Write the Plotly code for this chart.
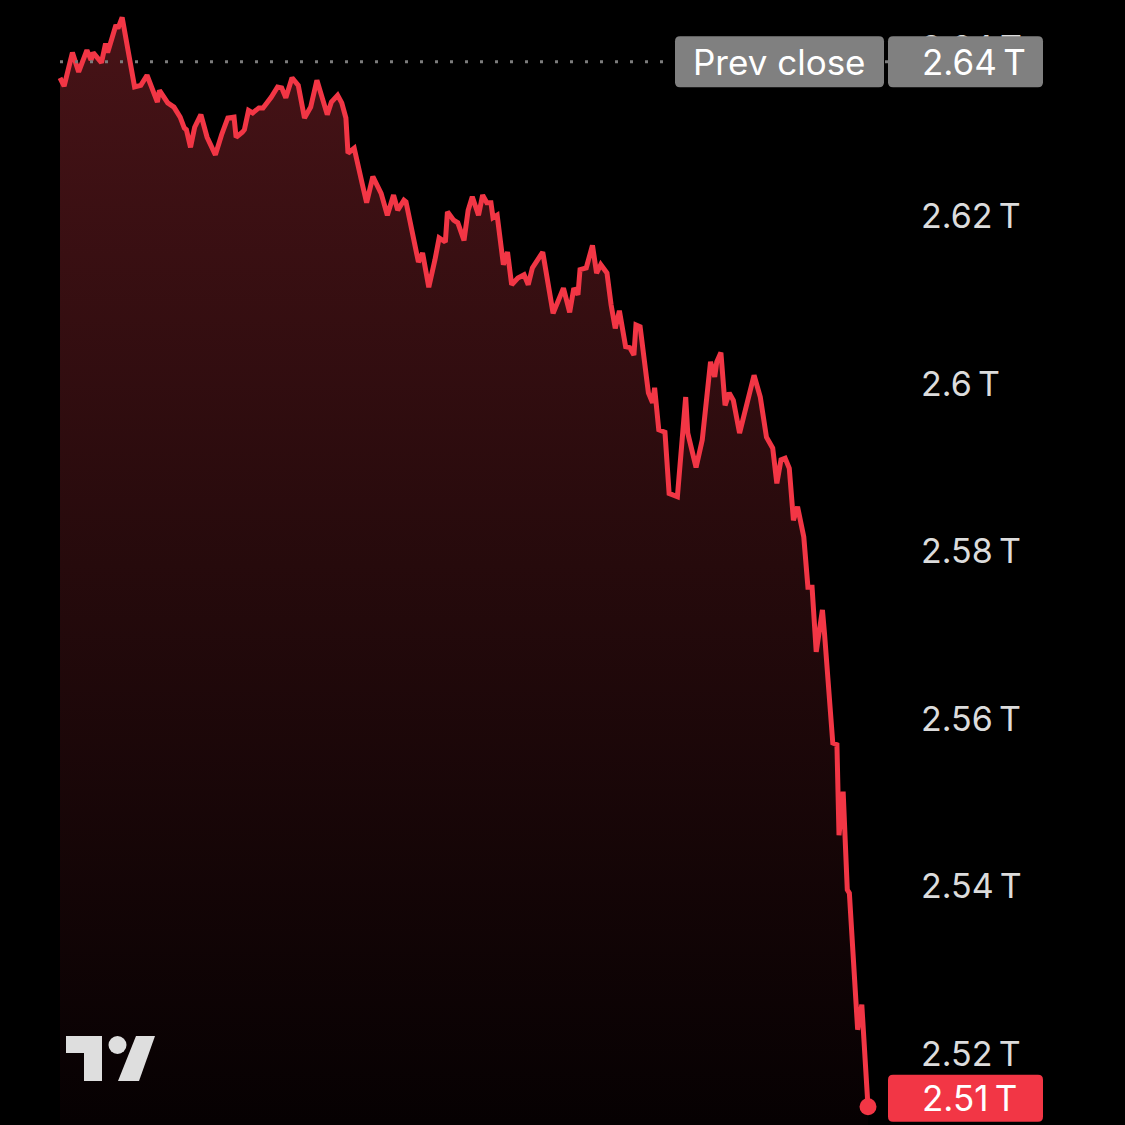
import plotly.graph_objects as go

# ---- data ----
minutes = [0, 2, 6, 9, 13, 15, 16, 20, 22, 23, 27, 28, 30, 36, 39, 42, 47, 48, 52, 55,
           58, 60, 61, 63, 65, 68, 71, 75, 78, 81, 84, 85, 88, 89, 91, 93, 96, 98, 102, 105,
           107, 109, 112, 115, 118, 121, 124, 129, 131, 134, 136, 138, 139, 142, 146, 148, 151, 155, 158, 161,
           163, 166, 167, 170, 173, 175, 178, 181, 183, 186, 187, 190, 192, 195, 197, 199, 202, 204, 206, 208,
           209, 211, 214, 216, 218, 221, 224, 226, 228, 233, 238, 243, 246, 248, 250, 251, 254, 257, 259, 261,
           264, 266, 268, 270, 273, 275, 277, 278, 280, 284, 286, 287, 289, 292, 294, 298, 302, 303, 307, 310,
           314, 316, 317, 319, 321, 323, 325, 328, 335, 338, 341, 344, 346, 348, 350, 352, 354, 356, 359, 361,
           363, 365, 368, 369, 373, 375, 376, 378, 380, 381, 385, 387, 390]

market_cap_t = [2.6365, 2.6355, 2.6395, 2.6372, 2.6398, 2.6386, 2.6395, 2.6383, 2.6406, 2.6395,
                2.6428, 2.6424, 2.6437, 2.6354, 2.6356, 2.6368, 2.6336, 2.6350, 2.6335, 2.6330,
                2.6318, 2.6305, 2.6303, 2.6282, 2.6306, 2.6321, 2.6294, 2.6273, 2.6297, 2.6317,
                2.6318, 2.6294, 2.6300, 2.6303, 2.6326, 2.6323, 2.6329, 2.6329, 2.6342, 2.6354,
                2.6353, 2.6341, 2.6365, 2.6356, 2.6317, 2.6330, 2.6362, 2.6321, 2.6336, 2.6344,
                2.6335, 2.6317, 2.6275, 2.6281, 2.6237, 2.6216, 2.6247, 2.6227, 2.6201, 2.6225,
                2.6207, 2.6219, 2.6217, 2.6180, 2.6145, 2.6156, 2.6115, 2.6148, 2.6174, 2.6169,
                2.6205, 2.6195, 2.6192, 2.6171, 2.6207, 2.6223, 2.6201, 2.6225, 2.6216, 2.6216,
                2.6198, 2.6201, 2.6142, 2.6157, 2.6118, 2.6126, 2.6130, 2.6118, 2.6138, 2.6157,
                2.6084, 2.6114, 2.6085, 2.6114, 2.6106, 2.6136, 2.6138, 2.6165, 2.6132, 2.6142,
                2.6132, 2.6094, 2.6066, 2.6087, 2.6044, 2.6043, 2.6034, 2.6070, 2.6068, 2.5989,
                2.5977, 2.5995, 2.5945, 2.5942, 2.5869, 2.5865, 2.5984, 2.5941, 2.5900, 2.5933,
                2.6026, 2.6008, 2.6026, 2.6037, 2.5974, 2.5989, 2.5980, 2.5941, 2.6010, 2.5984,
                2.5936, 2.5923, 2.5881, 2.5909, 2.5911, 2.5899, 2.5837, 2.5853, 2.5817, 2.5757,
                2.5757, 2.5680, 2.5730, 2.5702, 2.5571, 2.5569, 2.5461, 2.5513, 2.5396, 2.5392,
                2.5229, 2.5259, 2.5137]

prev_close = 2.6384
tick_vals = [2.52, 2.54, 2.56, 2.58, 2.60, 2.62, 2.64]
tick_text = ["2.52\u2009T", "2.54\u2009T", "2.56\u2009T", "2.58\u2009T", "2.6\u2009T", "2.62\u2009T", "2.64\u2009T"]

# ---- styling ----
W = H = 1125
RED = "#F23645"
GRAY_BOX = "#808080"
LABEL = "#dcdcdc"
FONT = "Inter, Roboto, sans-serif"
Y_RANGE = [2.51153, 2.64578]
X_RANGE = [-28.96, 398.2]
PLOT_RIGHT = 885 / W
PX = (Y_RANGE[1] - Y_RANGE[0]) / H  # data units per pixel (vertical)

fig = go.Figure()

fig.add_trace(go.Scatter(
    x=minutes, y=market_cap_t, mode="lines",
    line=dict(color=RED, width=5),
    fill="tozeroy",
    fillgradient=dict(type="vertical",
                      colorscale=[[0, "rgb(6,1,2)"], [0.5, "rgb(38,10,12)"], [1, "rgb(72,19,23)"]],
                      start=Y_RANGE[0], stop=2.645),
    hoverinfo="skip",
))
fig.add_trace(go.Scatter(
    x=[minutes[-1]], y=[market_cap_t[-1]], mode="markers",
    marker=dict(color=RED, size=17), cliponaxis=False, hoverinfo="skip",
))


def rrect(x0, x1, yc, h_px, r_px, color):
    """rounded rectangle: x in paper pixels, y centre in data units"""
    X0, X1 = x0 / W, x1 / W
    rx = r_px / W
    ry = r_px * PX
    y0 = yc - h_px / 2 * PX
    y1 = yc + h_px / 2 * PX
    path = (f"M{X0+rx},{y1} L{X1-rx},{y1} Q{X1},{y1} {X1},{y1-ry} "
            f"L{X1},{y0+ry} Q{X1},{y0} {X1-rx},{y0} L{X0+rx},{y0} "
            f"Q{X0},{y0} {X0},{y0+ry} L{X0},{y1-ry} Q{X0},{y1} {X0+rx},{y1} Z")
    return dict(type="path", xref="paper", yref="y", path=path,
                fillcolor=color, line=dict(width=0), layer="above")


shapes = []
# previous close dotted line
shapes.append(dict(type="line", xref="paper", yref="y",
                   x0=60 / W, x1=1040 / W, y0=prev_close, y1=prev_close,
                   line=dict(color="#7c7c7c", width=3, dash="3px,12px"), layer="above"))
# prev close label boxes
shapes.append(rrect(675, 884, prev_close, 51, 5, GRAY_BOX))
shapes.append(rrect(888, 1043, prev_close, 51, 5, GRAY_BOX))
# last value box
last_c = market_cap_t[-1] + 8.5 * PX
shapes.append(rrect(888, 1043, last_c, 47, 5, RED))


# TradingView logo (paper pixel coords)
def pp(x, y):
    return f"{x / W},{1 - y / H}"


logo_col = "#dedede"
shapes.append(dict(type="path", xref="paper", yref="paper", layer="above",
                   fillcolor=logo_col, line=dict(width=0),
                   path=(f"M{pp(66,1036)} L{pp(102,1036)} L{pp(102,1081)} L{pp(84,1081)} "
                         f"L{pp(84,1053)} L{pp(66,1053)} Z")))
shapes.append(dict(type="circle", xref="paper", yref="paper", layer="above",
                   fillcolor=logo_col, line=dict(width=0),
                   x0=108.5 / W, x1=126.5 / W, y0=1 - 1054 / H, y1=1 - 1036 / H))
shapes.append(dict(type="path", xref="paper", yref="paper", layer="above",
                   fillcolor=logo_col, line=dict(width=0),
                   path=f"M{pp(136,1036)} L{pp(155,1036)} L{pp(139,1081)} L{pp(118,1081)} Z"))

annotations = [
    dict(x=779 / W, y=prev_close, xref="paper", yref="y", text="Prev close",
         showarrow=False, xanchor="center", yanchor="middle",
         font=dict(family=FONT, size=35, color="#ffffff")),
    dict(x=920 / W, y=prev_close, xref="paper", yref="y",
         text=f"{prev_close:.2f}\u2009T", showarrow=False, xanchor="left", yanchor="middle",
         font=dict(family=FONT, size=35, color="#ffffff")),
    dict(x=920 / W, y=last_c, xref="paper", yref="y",
         text=f"{market_cap_t[-1]:.2f}\u2009T", showarrow=False, xanchor="left", yanchor="middle",
         font=dict(family=FONT, size=35, color="#ffffff")),
]

fig.update_layout(
    width=W, height=H,
    margin=dict(l=0, r=0, t=0, b=0),
    paper_bgcolor="#000000", plot_bgcolor="#000000",
    showlegend=False,
    font=dict(family=FONT, size=34, color=LABEL),
    xaxis=dict(domain=[0, PLOT_RIGHT], range=X_RANGE, visible=False,
               showgrid=False, zeroline=False, fixedrange=True),
    yaxis=dict(side="right", range=Y_RANGE, tickvals=tick_vals, ticktext=tick_text,
               showgrid=False, zeroline=False, showline=False, ticks="",
               ticklabelstandoff=35, tickfont=dict(family=FONT, size=34, color=LABEL),
               fixedrange=True),
    shapes=shapes,
    annotations=annotations,
)

fig.write_html(
    "out.html",
    config={"displayModeBar": False},
    post_script="document.body.style.margin='0';document.body.style.background='#000';",
)
